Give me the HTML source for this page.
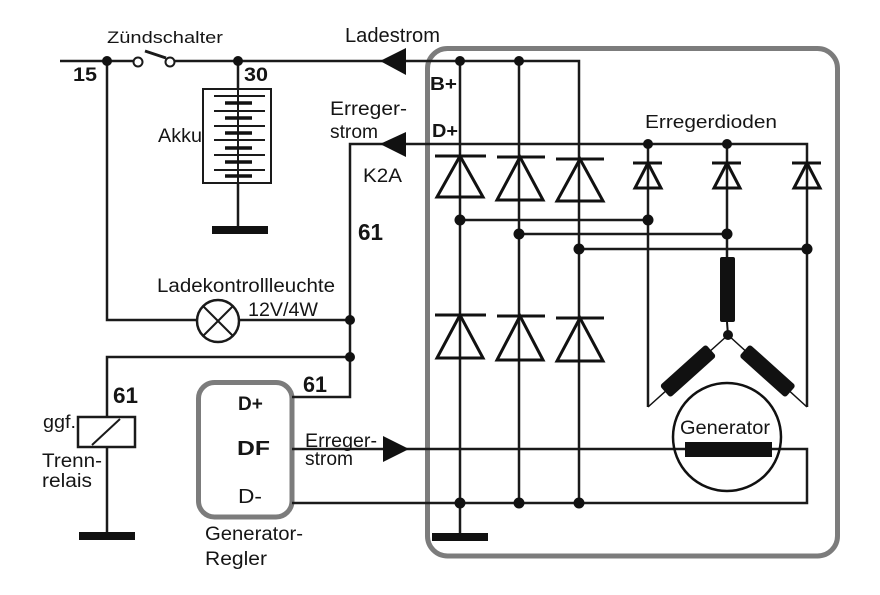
<!DOCTYPE html>
<html>
<head>
<meta charset="utf-8">
<style>
  html, body { margin: 0; padding: 0; background: #fff; }
  body { width: 880px; height: 595px; overflow: hidden; }
  svg { display: block; }
  text { font-family: "Liberation Sans", Arial, sans-serif; fill: #151515; }
  .b { font-weight: bold; }
</style>
</head>
<body>
<svg width="880" height="595" viewBox="0 0 880 595" xmlns="http://www.w3.org/2000/svg">
  <rect x="0" y="0" width="880" height="595" fill="#ffffff"/>

  <!-- Outer generator box -->
  <rect x="427.5" y="48.5" width="410" height="507.5" rx="20" ry="20" fill="none" stroke="#7c7c7c" stroke-width="5"/>

  <!-- Regulator box -->
  <rect x="198.5" y="382.5" width="93.5" height="134.5" rx="16" ry="16" fill="none" stroke="#7c7c7c" stroke-width="5"/>

  <g stroke="#1a1a1a" stroke-width="2.5" fill="none" stroke-linecap="butt">
    <path d="M60 61 H134"/>
    <path d="M174 61 H579 V503"/>
    <path d="M460 61 V537"/>
    <path d="M519 61 V503"/>
    <path d="M107 61 V320 H197"/>
    <path d="M239 320 H350"/>
    <path d="M292 397 H350 V144 H807 V407"/>
    <path d="M350 357 H107 V417"/>
    <path d="M107 447 V534"/>
    <path d="M238 61 V227"/>
    <path d="M648 144 V407"/>
    <path d="M727 144 V258"/>
    <path d="M460 220 H648"/>
    <path d="M519 234 H727"/>
    <path d="M579 249 H807"/>
    <path d="M292 449 H807 V503 H292"/>
  </g>

  <!-- ground bars -->
  <rect x="212" y="226" width="56" height="8" fill="#111"/>
  <rect x="79" y="532" width="56" height="8" fill="#111"/>
  <rect x="432" y="533" width="56" height="8" fill="#111"/>

  <!-- Ignition switch -->
  <circle cx="138" cy="62" r="4.5" fill="#fff" stroke="#1a1a1a" stroke-width="2"/>
  <circle cx="170" cy="62" r="4.5" fill="#fff" stroke="#1a1a1a" stroke-width="2"/>
  <line x1="145" y1="51" x2="166" y2="58" stroke="#1a1a1a" stroke-width="3"/>

  <!-- Battery -->
  <rect x="203" y="89" width="68" height="94" fill="#fff" stroke="#1a1a1a" stroke-width="2"/>
  <line x1="238" y1="89" x2="238" y2="183" stroke="#1a1a1a" stroke-width="2"/>
  <g stroke="#1a1a1a" stroke-width="2">
    <line x1="214" y1="96" x2="265" y2="96"/>
    <line x1="214" y1="111" x2="265" y2="111"/>
    <line x1="214" y1="126" x2="265" y2="126"/>
    <line x1="214" y1="140" x2="265" y2="140"/>
    <line x1="214" y1="155" x2="265" y2="155"/>
    <line x1="214" y1="170" x2="265" y2="170"/>
  </g>
  <g stroke="#111" stroke-width="3.5">
    <line x1="225" y1="103" x2="252" y2="103"/>
    <line x1="225" y1="118" x2="252" y2="118"/>
    <line x1="225" y1="133" x2="252" y2="133"/>
    <line x1="225" y1="148" x2="252" y2="148"/>
    <line x1="225" y1="162" x2="252" y2="162"/>
    <line x1="225" y1="176" x2="252" y2="176"/>
  </g>

  <!-- Lamp -->
  <circle cx="218" cy="321" r="21" fill="#fff" stroke="#1a1a1a" stroke-width="2.5"/>
  <line x1="203" y1="306" x2="233" y2="336" stroke="#1a1a1a" stroke-width="2"/>
  <line x1="233" y1="306" x2="203" y2="336" stroke="#1a1a1a" stroke-width="2"/>

  <!-- Relay -->
  <rect x="78" y="417" width="57" height="30" fill="#fff" stroke="#1a1a1a" stroke-width="2.5"/>
  <line x1="92" y1="445" x2="120" y2="419" stroke="#1a1a1a" stroke-width="2"/>

  <!-- Arrows -->
  <polygon points="380,61 406,48 406,75" fill="#111"/>
  <polygon points="380,144 406,132 406,157" fill="#111"/>
  <polygon points="409,449 383,436 383,462" fill="#111"/>

  <!-- Diodes -->
  <g stroke="#111" stroke-width="3" fill="none" stroke-linejoin="miter">
    <line x1="435" y1="156" x2="486" y2="156"/>
    <polygon points="460,156 437,197 483,197"/>
    <line x1="497" y1="157" x2="545" y2="157"/>
    <polygon points="520,157 497,200 543,200"/>
    <line x1="556" y1="159" x2="604" y2="159"/>
    <polygon points="580,159 557,201 603,201"/>
    <line x1="435" y1="315" x2="486" y2="315"/>
    <polygon points="460,315 437,358 483,358"/>
    <line x1="497" y1="316" x2="545" y2="316"/>
    <polygon points="520,316 497,360 543,360"/>
    <line x1="556" y1="318" x2="604" y2="318"/>
    <polygon points="580,318 557,361 603,361"/>
    <line x1="633" y1="163" x2="662" y2="163"/>
    <polygon points="648,163 635,188 661,188"/>
    <line x1="712" y1="163" x2="741" y2="163"/>
    <polygon points="727,163 714,188 740,188"/>
    <line x1="792" y1="163" x2="821" y2="163"/>
    <polygon points="807,163 794,188 820,188"/>
  </g>

  <!-- Stator windings -->
  <rect x="720" y="257" width="15" height="65" rx="2" fill="#111"/>
  <line x1="727" y1="322" x2="728" y2="335" stroke="#111" stroke-width="2"/>
  <line x1="728" y1="335" x2="648" y2="407" stroke="#111" stroke-width="1.5"/>
  <line x1="728" y1="335" x2="807" y2="407" stroke="#111" stroke-width="1.5"/>
  <g transform="translate(688,371) rotate(-42)">
    <rect x="-31" y="-8" width="62" height="16" rx="3" fill="#111"/>
  </g>
  <g transform="translate(767.5,371) rotate(42)">
    <rect x="-31" y="-8" width="62" height="16" rx="3" fill="#111"/>
  </g>

  <!-- Generator -->
  <circle cx="727" cy="437" r="54" fill="none" stroke="#111" stroke-width="2.5"/>
  <rect x="685" y="442" width="87" height="15" fill="#111"/>

  <!-- Junction dots -->
  <g fill="#111">
    <circle cx="107" cy="61" r="5"/>
    <circle cx="238" cy="61" r="5"/>
    <circle cx="460" cy="61" r="5"/>
    <circle cx="519" cy="61" r="5"/>
    <circle cx="648" cy="144" r="5"/>
    <circle cx="727" cy="144" r="5"/>
    <circle cx="460" cy="220" r="5.5"/>
    <circle cx="648" cy="220" r="5.5"/>
    <circle cx="519" cy="234" r="5.5"/>
    <circle cx="727" cy="234" r="5.5"/>
    <circle cx="579" cy="249" r="5.5"/>
    <circle cx="807" cy="249" r="5.5"/>
    <circle cx="350" cy="320" r="5"/>
    <circle cx="350" cy="357" r="5"/>
    <circle cx="460" cy="503" r="5.5"/>
    <circle cx="519" cy="503" r="5.5"/>
    <circle cx="579" cy="503" r="5.5"/>
    <circle cx="728" cy="335" r="5"/>
  </g>

  <!-- Labels -->
  <text x="107" y="43" font-size="17" textLength="116" lengthAdjust="spacingAndGlyphs">Zündschalter</text>
  <text x="73" y="81" font-size="19" class="b" textLength="24" lengthAdjust="spacingAndGlyphs">15</text>
  <text x="244" y="81" font-size="19" class="b" textLength="24" lengthAdjust="spacingAndGlyphs">30</text>
  <text x="158" y="142" font-size="19" textLength="44" lengthAdjust="spacingAndGlyphs">Akku</text>
  <text x="345" y="42" font-size="20" textLength="95" lengthAdjust="spacingAndGlyphs">Ladestrom</text>
  <text x="330" y="115" font-size="19" textLength="77" lengthAdjust="spacingAndGlyphs">Erreger-</text>
  <text x="330" y="138" font-size="19" textLength="48" lengthAdjust="spacingAndGlyphs">strom</text>
  <text x="363" y="182" font-size="19" textLength="39" lengthAdjust="spacingAndGlyphs">K2A</text>
  <text x="358" y="240" font-size="23" class="b" textLength="25" lengthAdjust="spacingAndGlyphs">61</text>
  <text x="430" y="90" font-size="18" class="b" textLength="27" lengthAdjust="spacingAndGlyphs">B+</text>
  <text x="432" y="137" font-size="18" class="b" textLength="26" lengthAdjust="spacingAndGlyphs">D+</text>
  <text x="645" y="128" font-size="18" textLength="132" lengthAdjust="spacingAndGlyphs">Erregerdioden</text>
  <text x="157" y="292" font-size="19" textLength="178" lengthAdjust="spacingAndGlyphs">Ladekontrollleuchte</text>
  <text x="248" y="316" font-size="19" textLength="70" lengthAdjust="spacingAndGlyphs">12V/4W</text>
  <text x="113" y="403" font-size="22" class="b" textLength="25" lengthAdjust="spacingAndGlyphs">61</text>
  <text x="43" y="428" font-size="18" textLength="33" lengthAdjust="spacingAndGlyphs">ggf.</text>
  <text x="42" y="467" font-size="19" textLength="60" lengthAdjust="spacingAndGlyphs">Trenn-</text>
  <text x="42" y="487" font-size="19" textLength="50" lengthAdjust="spacingAndGlyphs">relais</text>
  <text x="303" y="392" font-size="22" class="b" textLength="24" lengthAdjust="spacingAndGlyphs">61</text>
  <text x="238" y="410" font-size="19" class="b">D+</text>
  <text x="237" y="455" font-size="20" textLength="33" lengthAdjust="spacingAndGlyphs" style="font-weight:bold">DF</text>
  <text x="238" y="503" font-size="20" textLength="24" lengthAdjust="spacingAndGlyphs">D-</text>
  <text x="305" y="447" font-size="19" textLength="72" lengthAdjust="spacingAndGlyphs">Erreger-</text>
  <text x="305" y="465" font-size="19" textLength="48" lengthAdjust="spacingAndGlyphs">strom</text>
  <text x="205" y="540" font-size="19" textLength="98" lengthAdjust="spacingAndGlyphs">Generator-</text>
  <text x="205" y="565" font-size="19" textLength="62" lengthAdjust="spacingAndGlyphs">Regler</text>
  <text x="680" y="434" font-size="19" textLength="90" lengthAdjust="spacingAndGlyphs">Generator</text>
</svg>
</body>
</html>
